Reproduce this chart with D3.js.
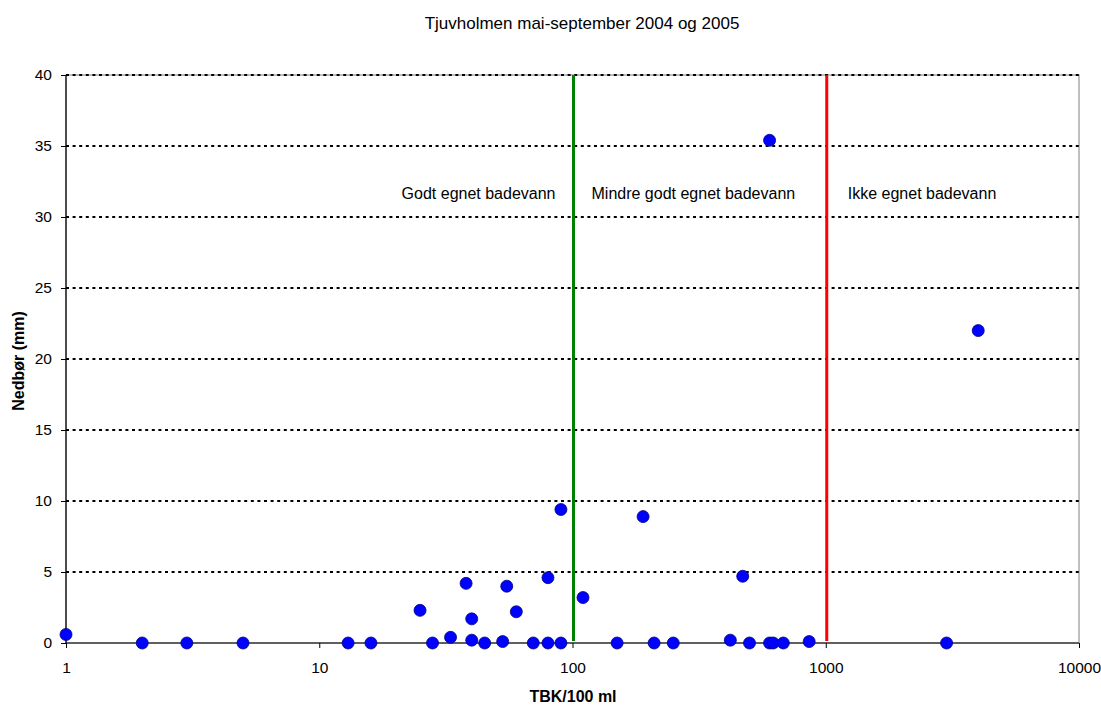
<!DOCTYPE html>
<html><head><meta charset="utf-8">
<script src="https://cdn.jsdelivr.net/npm/d3@7/dist/d3.min.js"></script>
<style>body{margin:0;background:#fff;} text{font-family:"Liberation Sans",Arial,sans-serif;}</style>
</head><body><svg id="c" width="1101" height="705"></svg>
<script>
const title = "Tjuvholmen mai-september 2004 og 2005";
const xLabel = "TBK/100 ml";
const yLabel = "Nedbør (mm)";
const tbk = [1,2,3,5,13,16,25,28,33,38,40,40,45,53,55,60,70,80,80,90,90,110,150,190,210,250,420,470,500,600,600,620,680,860,3000,4000];
const nedbor = [0.6,0,0,0,0,0,2.3,0,0.4,4.2,1.7,0.2,0,0.1,4.0,2.2,0,4.6,0,0,9.4,3.2,0,8.9,0,0,0.2,4.7,0,0,35.4,0,0,0.1,0,22];
const xTicks = [1,10,100,1000,10000];
const yTicks = [0,5,10,15,20,25,30,35,40];
const thresholds = [100,1000];
const thresholdColors = ["#008000","#ff0000"];
const zoneLabels = ["Godt egnet badevann","Mindre godt egnet badevann","Ikke egnet badevann"];

const svg = d3.select("#c");
const L=66,R=1079,T=75,B=643;
const x = d3.scaleLog().domain([1,10000]).range([L,R]);
const y = d3.scaleLinear().domain([0,40]).range([B,T]);

// plot border
svg.append("rect").attr("x",L).attr("y",T).attr("width",R-L).attr("height",B-T)
  .attr("fill","none").attr("stroke","#808080").attr("stroke-width",1);

// gridlines
svg.append("g").selectAll("line").data(yTicks.filter(d=>d>0)).join("line")
  .attr("x1",L).attr("x2",R).attr("y1",d=>y(d)).attr("y2",d=>y(d))
  .attr("stroke","#000").attr("stroke-width",2).attr("stroke-dasharray","3,3.6");

// axes
const yAxis = d3.axisLeft(y).tickValues(yTicks).tickSize(5).tickPadding(9).tickFormat(d3.format("d"));
const gy = svg.append("g").attr("transform",`translate(${L},0)`).call(yAxis);
const xAxis = d3.axisBottom(x).tickValues(xTicks).tickSize(5).tickPadding(14).tickFormat(d3.format("d"));
const gx = svg.append("g").attr("transform",`translate(0,${B})`).call(xAxis);
[gx,gy].forEach(g=>{
  g.select(".domain").attr("stroke","#000").attr("stroke-width",1.2);
  g.selectAll(".tick line").attr("stroke","#000");
  g.selectAll("text").attr("font-size",15.5).attr("fill","#000").attr("font-family","Liberation Sans, Arial, sans-serif");
});
gx.select(".domain").attr("d",`M${L},0H${R}`);
gy.select(".domain").attr("d",`M0,${B}V${T}`);

// threshold lines
svg.append("g").selectAll("line").data(thresholds).join("line")
  .attr("x1",d=>x(d)+1).attr("x2",d=>x(d)+1).attr("y1",T).attr("y2",B-2)
  .attr("stroke",(d,i)=>thresholdColors[i]).attr("stroke-width",3);

// zone labels
const zy = 199;
svg.append("text").attr("x",x(100)-17).attr("y",zy).attr("text-anchor","end").attr("font-size",16).text(zoneLabels[0]);
svg.append("text").attr("x",x(100)+19).attr("y",zy).attr("text-anchor","start").attr("font-size",16).text(zoneLabels[1]);
svg.append("text").attr("x",x(1000)+22).attr("y",zy).attr("text-anchor","start").attr("font-size",16).text(zoneLabels[2]);

// points
svg.append("g").selectAll("circle").data(tbk.map((v,i)=>[v,nedbor[i]])).join("circle")
  .attr("cx",d=>x(d[0])).attr("cy",d=>y(d[1])).attr("r",6)
  .attr("fill","#0000ff").attr("stroke","#000080").attr("stroke-width",0.8);

// titles
svg.append("text").attr("x",582).attr("y",29).attr("text-anchor","middle").attr("font-size",17).text(title);
svg.append("text").attr("x",573).attr("y",702).attr("text-anchor","middle").attr("font-size",16).attr("font-weight","bold").text(xLabel);
svg.append("text").attr("transform",`translate(24,361) rotate(-90)`).attr("text-anchor","middle").attr("font-size",16).attr("font-weight","bold").text(yLabel);
</script></body></html>
